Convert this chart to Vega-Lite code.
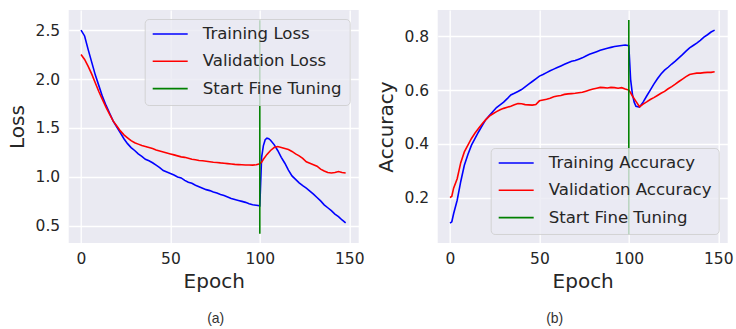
{
  "$schema": "https://vega.github.io/schema/vega-lite/v6.json",
  "padding": {"left": 6.7, "top": 10, "right": 0, "bottom": 0},
  "background": "white",
  "config": {
    "view": {"fill": "#EAEAF2", "stroke": null},
    "axis": {
      "domain": false, "ticks": false, "tickSize": 0,
      "grid": true, "gridColor": "#ffffff", "gridWidth": 1.3,
      "labelFont": "DejaVu Sans", "labelFontSize": 15.5, "labelColor": "#262626", "labelPadding": 9,
      "titleFont": "DejaVu Sans", "titleFontSize": 20, "titleFontWeight": "normal", "titleColor": "#262626"
    },
    "axisX": {"titlePadding": 4},
    "axisY": {"titlePadding": 7.5},
    "legend": {
      "symbolType": "stroke", "symbolSize": 1225, "symbolStrokeWidth": 1.6,
      "labelFont": "DejaVu Sans", "labelFontSize": 16.6, "labelColor": "#262626", "labelOffset": 14, "labelLimit": 400,
      "clipHeight": 16, "rowPadding": 10.3, "padding": 7, "offset": 9,
      "fillColor": "rgba(234,234,242,0.8)", "strokeColor": "rgba(204,204,204,0.8)", "cornerRadius": 4
    },
    "title": {"font": "Liberation Sans", "fontSize": 14, "fontWeight": "normal", "color": "#333333"}
  },
  "datasets": {
    "tl": [
      {"epoch":0,"value":2.50,"series":"Training Loss"},{"epoch":2,"value":2.44,"series":"Training Loss"},{"epoch":4,"value":2.30,"series":"Training Loss"},{"epoch":6,"value":2.17,"series":"Training Loss"},{"epoch":8,"value":2.04,"series":"Training Loss"},{"epoch":10,"value":1.93,"series":"Training Loss"},{"epoch":12,"value":1.82,"series":"Training Loss"},{"epoch":14,"value":1.73,"series":"Training Loss"},{"epoch":16,"value":1.65,"series":"Training Loss"},{"epoch":18,"value":1.57,"series":"Training Loss"},{"epoch":20,"value":1.51,"series":"Training Loss"},{"epoch":22,"value":1.45,"series":"Training Loss"},{"epoch":24,"value":1.39,"series":"Training Loss"},{"epoch":26,"value":1.34,"series":"Training Loss"},{"epoch":28,"value":1.30,"series":"Training Loss"},{"epoch":30,"value":1.27,"series":"Training Loss"},{"epoch":32,"value":1.235,"series":"Training Loss"},{"epoch":34,"value":1.21,"series":"Training Loss"},{"epoch":36,"value":1.18,"series":"Training Loss"},{"epoch":38,"value":1.165,"series":"Training Loss"},{"epoch":40,"value":1.145,"series":"Training Loss"},{"epoch":42,"value":1.12,"series":"Training Loss"},{"epoch":44,"value":1.095,"series":"Training Loss"},{"epoch":46,"value":1.065,"series":"Training Loss"},{"epoch":48,"value":1.05,"series":"Training Loss"},{"epoch":50,"value":1.035,"series":"Training Loss"},{"epoch":52,"value":1.02,"series":"Training Loss"},{"epoch":54,"value":1.0,"series":"Training Loss"},{"epoch":56,"value":0.99,"series":"Training Loss"},{"epoch":58,"value":0.965,"series":"Training Loss"},{"epoch":60,"value":0.945,"series":"Training Loss"},{"epoch":62,"value":0.935,"series":"Training Loss"},{"epoch":64,"value":0.915,"series":"Training Loss"},{"epoch":66,"value":0.90,"series":"Training Loss"},{"epoch":68,"value":0.885,"series":"Training Loss"},{"epoch":70,"value":0.87,"series":"Training Loss"},{"epoch":72,"value":0.86,"series":"Training Loss"},{"epoch":74,"value":0.845,"series":"Training Loss"},{"epoch":76,"value":0.835,"series":"Training Loss"},{"epoch":78,"value":0.82,"series":"Training Loss"},{"epoch":80,"value":0.81,"series":"Training Loss"},{"epoch":82,"value":0.795,"series":"Training Loss"},{"epoch":84,"value":0.78,"series":"Training Loss"},{"epoch":86,"value":0.77,"series":"Training Loss"},{"epoch":88,"value":0.76,"series":"Training Loss"},{"epoch":90,"value":0.75,"series":"Training Loss"},{"epoch":92,"value":0.74,"series":"Training Loss"},{"epoch":94,"value":0.725,"series":"Training Loss"},{"epoch":96,"value":0.715,"series":"Training Loss"},{"epoch":98,"value":0.71,"series":"Training Loss"},{"epoch":100,"value":0.705,"series":"Training Loss"},{"epoch":101,"value":1.20,"series":"Training Loss"},{"epoch":102,"value":1.32,"series":"Training Loss"},{"epoch":103,"value":1.38,"series":"Training Loss"},{"epoch":104,"value":1.395,"series":"Training Loss"},{"epoch":105,"value":1.39,"series":"Training Loss"},{"epoch":106,"value":1.375,"series":"Training Loss"},{"epoch":108,"value":1.33,"series":"Training Loss"},{"epoch":110,"value":1.27,"series":"Training Loss"},{"epoch":112,"value":1.20,"series":"Training Loss"},{"epoch":114,"value":1.14,"series":"Training Loss"},{"epoch":116,"value":1.07,"series":"Training Loss"},{"epoch":118,"value":1.01,"series":"Training Loss"},{"epoch":120,"value":0.975,"series":"Training Loss"},{"epoch":122,"value":0.94,"series":"Training Loss"},{"epoch":124,"value":0.91,"series":"Training Loss"},{"epoch":126,"value":0.885,"series":"Training Loss"},{"epoch":128,"value":0.855,"series":"Training Loss"},{"epoch":130,"value":0.825,"series":"Training Loss"},{"epoch":132,"value":0.79,"series":"Training Loss"},{"epoch":134,"value":0.755,"series":"Training Loss"},{"epoch":136,"value":0.715,"series":"Training Loss"},{"epoch":138,"value":0.685,"series":"Training Loss"},{"epoch":140,"value":0.655,"series":"Training Loss"},{"epoch":142,"value":0.62,"series":"Training Loss"},{"epoch":144,"value":0.595,"series":"Training Loss"},{"epoch":146,"value":0.56,"series":"Training Loss"},{"epoch":148,"value":0.53,"series":"Training Loss"}
    ],
    "vl": [
      {"epoch":0,"value":2.25,"series":"Validation Loss"},{"epoch":2,"value":2.20,"series":"Validation Loss"},{"epoch":4,"value":2.13,"series":"Validation Loss"},{"epoch":6,"value":2.05,"series":"Validation Loss"},{"epoch":8,"value":1.96,"series":"Validation Loss"},{"epoch":10,"value":1.87,"series":"Validation Loss"},{"epoch":12,"value":1.79,"series":"Validation Loss"},{"epoch":14,"value":1.71,"series":"Validation Loss"},{"epoch":16,"value":1.64,"series":"Validation Loss"},{"epoch":18,"value":1.57,"series":"Validation Loss"},{"epoch":20,"value":1.52,"series":"Validation Loss"},{"epoch":22,"value":1.47,"series":"Validation Loss"},{"epoch":24,"value":1.43,"series":"Validation Loss"},{"epoch":26,"value":1.40,"series":"Validation Loss"},{"epoch":28,"value":1.37,"series":"Validation Loss"},{"epoch":30,"value":1.35,"series":"Validation Loss"},{"epoch":32,"value":1.335,"series":"Validation Loss"},{"epoch":34,"value":1.32,"series":"Validation Loss"},{"epoch":36,"value":1.31,"series":"Validation Loss"},{"epoch":38,"value":1.30,"series":"Validation Loss"},{"epoch":40,"value":1.29,"series":"Validation Loss"},{"epoch":42,"value":1.275,"series":"Validation Loss"},{"epoch":44,"value":1.265,"series":"Validation Loss"},{"epoch":46,"value":1.255,"series":"Validation Loss"},{"epoch":48,"value":1.245,"series":"Validation Loss"},{"epoch":50,"value":1.235,"series":"Validation Loss"},{"epoch":52,"value":1.225,"series":"Validation Loss"},{"epoch":54,"value":1.215,"series":"Validation Loss"},{"epoch":56,"value":1.205,"series":"Validation Loss"},{"epoch":58,"value":1.20,"series":"Validation Loss"},{"epoch":60,"value":1.19,"series":"Validation Loss"},{"epoch":62,"value":1.18,"series":"Validation Loss"},{"epoch":64,"value":1.175,"series":"Validation Loss"},{"epoch":66,"value":1.168,"series":"Validation Loss"},{"epoch":68,"value":1.165,"series":"Validation Loss"},{"epoch":70,"value":1.16,"series":"Validation Loss"},{"epoch":72,"value":1.155,"series":"Validation Loss"},{"epoch":74,"value":1.15,"series":"Validation Loss"},{"epoch":76,"value":1.147,"series":"Validation Loss"},{"epoch":78,"value":1.143,"series":"Validation Loss"},{"epoch":80,"value":1.14,"series":"Validation Loss"},{"epoch":82,"value":1.136,"series":"Validation Loss"},{"epoch":84,"value":1.132,"series":"Validation Loss"},{"epoch":86,"value":1.128,"series":"Validation Loss"},{"epoch":88,"value":1.126,"series":"Validation Loss"},{"epoch":90,"value":1.124,"series":"Validation Loss"},{"epoch":92,"value":1.122,"series":"Validation Loss"},{"epoch":94,"value":1.122,"series":"Validation Loss"},{"epoch":96,"value":1.12,"series":"Validation Loss"},{"epoch":98,"value":1.124,"series":"Validation Loss"},{"epoch":100,"value":1.135,"series":"Validation Loss"},{"epoch":101,"value":1.15,"series":"Validation Loss"},{"epoch":102,"value":1.18,"series":"Validation Loss"},{"epoch":104,"value":1.23,"series":"Validation Loss"},{"epoch":106,"value":1.27,"series":"Validation Loss"},{"epoch":108,"value":1.30,"series":"Validation Loss"},{"epoch":110,"value":1.31,"series":"Validation Loss"},{"epoch":112,"value":1.30,"series":"Validation Loss"},{"epoch":114,"value":1.29,"series":"Validation Loss"},{"epoch":116,"value":1.28,"series":"Validation Loss"},{"epoch":118,"value":1.26,"series":"Validation Loss"},{"epoch":120,"value":1.235,"series":"Validation Loss"},{"epoch":122,"value":1.215,"series":"Validation Loss"},{"epoch":124,"value":1.19,"series":"Validation Loss"},{"epoch":126,"value":1.155,"series":"Validation Loss"},{"epoch":128,"value":1.14,"series":"Validation Loss"},{"epoch":130,"value":1.125,"series":"Validation Loss"},{"epoch":132,"value":1.11,"series":"Validation Loss"},{"epoch":134,"value":1.08,"series":"Validation Loss"},{"epoch":136,"value":1.06,"series":"Validation Loss"},{"epoch":138,"value":1.045,"series":"Validation Loss"},{"epoch":140,"value":1.04,"series":"Validation Loss"},{"epoch":142,"value":1.045,"series":"Validation Loss"},{"epoch":144,"value":1.055,"series":"Validation Loss"},{"epoch":146,"value":1.045,"series":"Validation Loss"},{"epoch":148,"value":1.04,"series":"Validation Loss"}
    ],
    "fa": [
      {"epoch":100,"value":0.42,"series":"Start Fine Tuning"},{"epoch":100,"value":2.6,"series":"Start Fine Tuning"}
    ],
    "ta": [
      {"epoch":0,"value":0.105,"series":"Training Accuracy"},{"epoch":1,"value":0.11,"series":"Training Accuracy"},{"epoch":2,"value":0.14,"series":"Training Accuracy"},{"epoch":4,"value":0.19,"series":"Training Accuracy"},{"epoch":6,"value":0.26,"series":"Training Accuracy"},{"epoch":8,"value":0.32,"series":"Training Accuracy"},{"epoch":10,"value":0.36,"series":"Training Accuracy"},{"epoch":12,"value":0.395,"series":"Training Accuracy"},{"epoch":14,"value":0.42,"series":"Training Accuracy"},{"epoch":16,"value":0.445,"series":"Training Accuracy"},{"epoch":18,"value":0.468,"series":"Training Accuracy"},{"epoch":20,"value":0.49,"series":"Training Accuracy"},{"epoch":22,"value":0.505,"series":"Training Accuracy"},{"epoch":24,"value":0.52,"series":"Training Accuracy"},{"epoch":26,"value":0.535,"series":"Training Accuracy"},{"epoch":28,"value":0.545,"series":"Training Accuracy"},{"epoch":30,"value":0.555,"series":"Training Accuracy"},{"epoch":32,"value":0.568,"series":"Training Accuracy"},{"epoch":34,"value":0.582,"series":"Training Accuracy"},{"epoch":36,"value":0.588,"series":"Training Accuracy"},{"epoch":38,"value":0.595,"series":"Training Accuracy"},{"epoch":40,"value":0.602,"series":"Training Accuracy"},{"epoch":42,"value":0.612,"series":"Training Accuracy"},{"epoch":44,"value":0.622,"series":"Training Accuracy"},{"epoch":46,"value":0.632,"series":"Training Accuracy"},{"epoch":48,"value":0.642,"series":"Training Accuracy"},{"epoch":50,"value":0.652,"series":"Training Accuracy"},{"epoch":52,"value":0.658,"series":"Training Accuracy"},{"epoch":54,"value":0.665,"series":"Training Accuracy"},{"epoch":56,"value":0.672,"series":"Training Accuracy"},{"epoch":58,"value":0.678,"series":"Training Accuracy"},{"epoch":60,"value":0.684,"series":"Training Accuracy"},{"epoch":62,"value":0.69,"series":"Training Accuracy"},{"epoch":64,"value":0.696,"series":"Training Accuracy"},{"epoch":66,"value":0.702,"series":"Training Accuracy"},{"epoch":68,"value":0.707,"series":"Training Accuracy"},{"epoch":70,"value":0.71,"series":"Training Accuracy"},{"epoch":72,"value":0.715,"series":"Training Accuracy"},{"epoch":74,"value":0.72,"series":"Training Accuracy"},{"epoch":76,"value":0.727,"series":"Training Accuracy"},{"epoch":78,"value":0.733,"series":"Training Accuracy"},{"epoch":80,"value":0.738,"series":"Training Accuracy"},{"epoch":82,"value":0.743,"series":"Training Accuracy"},{"epoch":84,"value":0.748,"series":"Training Accuracy"},{"epoch":86,"value":0.752,"series":"Training Accuracy"},{"epoch":88,"value":0.756,"series":"Training Accuracy"},{"epoch":90,"value":0.759,"series":"Training Accuracy"},{"epoch":92,"value":0.762,"series":"Training Accuracy"},{"epoch":94,"value":0.764,"series":"Training Accuracy"},{"epoch":96,"value":0.766,"series":"Training Accuracy"},{"epoch":98,"value":0.768,"series":"Training Accuracy"},{"epoch":100,"value":0.765,"series":"Training Accuracy"},{"epoch":101,"value":0.64,"series":"Training Accuracy"},{"epoch":102,"value":0.585,"series":"Training Accuracy"},{"epoch":103,"value":0.555,"series":"Training Accuracy"},{"epoch":104,"value":0.54,"series":"Training Accuracy"},{"epoch":106,"value":0.537,"series":"Training Accuracy"},{"epoch":108,"value":0.555,"series":"Training Accuracy"},{"epoch":110,"value":0.578,"series":"Training Accuracy"},{"epoch":112,"value":0.6,"series":"Training Accuracy"},{"epoch":114,"value":0.622,"series":"Training Accuracy"},{"epoch":116,"value":0.642,"series":"Training Accuracy"},{"epoch":118,"value":0.66,"series":"Training Accuracy"},{"epoch":120,"value":0.674,"series":"Training Accuracy"},{"epoch":122,"value":0.685,"series":"Training Accuracy"},{"epoch":124,"value":0.697,"series":"Training Accuracy"},{"epoch":126,"value":0.708,"series":"Training Accuracy"},{"epoch":128,"value":0.72,"series":"Training Accuracy"},{"epoch":130,"value":0.732,"series":"Training Accuracy"},{"epoch":132,"value":0.745,"series":"Training Accuracy"},{"epoch":134,"value":0.757,"series":"Training Accuracy"},{"epoch":136,"value":0.766,"series":"Training Accuracy"},{"epoch":138,"value":0.775,"series":"Training Accuracy"},{"epoch":140,"value":0.785,"series":"Training Accuracy"},{"epoch":142,"value":0.797,"series":"Training Accuracy"},{"epoch":144,"value":0.806,"series":"Training Accuracy"},{"epoch":146,"value":0.816,"series":"Training Accuracy"},{"epoch":148,"value":0.823,"series":"Training Accuracy"}
    ],
    "va": [
      {"epoch":0,"value":0.20,"series":"Validation Accuracy"},{"epoch":1,"value":0.205,"series":"Validation Accuracy"},{"epoch":2,"value":0.235,"series":"Validation Accuracy"},{"epoch":4,"value":0.27,"series":"Validation Accuracy"},{"epoch":6,"value":0.33,"series":"Validation Accuracy"},{"epoch":8,"value":0.37,"series":"Validation Accuracy"},{"epoch":10,"value":0.395,"series":"Validation Accuracy"},{"epoch":12,"value":0.42,"series":"Validation Accuracy"},{"epoch":14,"value":0.44,"series":"Validation Accuracy"},{"epoch":16,"value":0.458,"series":"Validation Accuracy"},{"epoch":18,"value":0.475,"series":"Validation Accuracy"},{"epoch":20,"value":0.49,"series":"Validation Accuracy"},{"epoch":22,"value":0.503,"series":"Validation Accuracy"},{"epoch":24,"value":0.512,"series":"Validation Accuracy"},{"epoch":26,"value":0.52,"series":"Validation Accuracy"},{"epoch":28,"value":0.527,"series":"Validation Accuracy"},{"epoch":30,"value":0.532,"series":"Validation Accuracy"},{"epoch":32,"value":0.536,"series":"Validation Accuracy"},{"epoch":34,"value":0.54,"series":"Validation Accuracy"},{"epoch":36,"value":0.545,"series":"Validation Accuracy"},{"epoch":38,"value":0.55,"series":"Validation Accuracy"},{"epoch":40,"value":0.549,"series":"Validation Accuracy"},{"epoch":42,"value":0.546,"series":"Validation Accuracy"},{"epoch":44,"value":0.545,"series":"Validation Accuracy"},{"epoch":46,"value":0.544,"series":"Validation Accuracy"},{"epoch":48,"value":0.546,"series":"Validation Accuracy"},{"epoch":50,"value":0.56,"series":"Validation Accuracy"},{"epoch":52,"value":0.563,"series":"Validation Accuracy"},{"epoch":54,"value":0.566,"series":"Validation Accuracy"},{"epoch":56,"value":0.57,"series":"Validation Accuracy"},{"epoch":58,"value":0.575,"series":"Validation Accuracy"},{"epoch":60,"value":0.578,"series":"Validation Accuracy"},{"epoch":62,"value":0.58,"series":"Validation Accuracy"},{"epoch":64,"value":0.584,"series":"Validation Accuracy"},{"epoch":66,"value":0.586,"series":"Validation Accuracy"},{"epoch":68,"value":0.587,"series":"Validation Accuracy"},{"epoch":70,"value":0.588,"series":"Validation Accuracy"},{"epoch":72,"value":0.59,"series":"Validation Accuracy"},{"epoch":74,"value":0.592,"series":"Validation Accuracy"},{"epoch":76,"value":0.596,"series":"Validation Accuracy"},{"epoch":78,"value":0.6,"series":"Validation Accuracy"},{"epoch":80,"value":0.604,"series":"Validation Accuracy"},{"epoch":82,"value":0.607,"series":"Validation Accuracy"},{"epoch":84,"value":0.61,"series":"Validation Accuracy"},{"epoch":86,"value":0.609,"series":"Validation Accuracy"},{"epoch":88,"value":0.608,"series":"Validation Accuracy"},{"epoch":90,"value":0.61,"series":"Validation Accuracy"},{"epoch":92,"value":0.609,"series":"Validation Accuracy"},{"epoch":94,"value":0.607,"series":"Validation Accuracy"},{"epoch":96,"value":0.609,"series":"Validation Accuracy"},{"epoch":98,"value":0.604,"series":"Validation Accuracy"},{"epoch":100,"value":0.6,"series":"Validation Accuracy"},{"epoch":101,"value":0.59,"series":"Validation Accuracy"},{"epoch":102,"value":0.578,"series":"Validation Accuracy"},{"epoch":104,"value":0.558,"series":"Validation Accuracy"},{"epoch":106,"value":0.538,"series":"Validation Accuracy"},{"epoch":108,"value":0.548,"series":"Validation Accuracy"},{"epoch":110,"value":0.556,"series":"Validation Accuracy"},{"epoch":112,"value":0.565,"series":"Validation Accuracy"},{"epoch":114,"value":0.572,"series":"Validation Accuracy"},{"epoch":116,"value":0.58,"series":"Validation Accuracy"},{"epoch":118,"value":0.588,"series":"Validation Accuracy"},{"epoch":120,"value":0.595,"series":"Validation Accuracy"},{"epoch":122,"value":0.605,"series":"Validation Accuracy"},{"epoch":124,"value":0.613,"series":"Validation Accuracy"},{"epoch":126,"value":0.622,"series":"Validation Accuracy"},{"epoch":128,"value":0.632,"series":"Validation Accuracy"},{"epoch":130,"value":0.641,"series":"Validation Accuracy"},{"epoch":132,"value":0.65,"series":"Validation Accuracy"},{"epoch":134,"value":0.658,"series":"Validation Accuracy"},{"epoch":136,"value":0.661,"series":"Validation Accuracy"},{"epoch":138,"value":0.663,"series":"Validation Accuracy"},{"epoch":140,"value":0.663,"series":"Validation Accuracy"},{"epoch":142,"value":0.665,"series":"Validation Accuracy"},{"epoch":144,"value":0.666,"series":"Validation Accuracy"},{"epoch":146,"value":0.666,"series":"Validation Accuracy"},{"epoch":148,"value":0.668,"series":"Validation Accuracy"}
    ],
    "fb": [
      {"epoch":100,"value":0.064,"series":"Start Fine Tuning"},{"epoch":100,"value":0.861,"series":"Start Fine Tuning"}
    ]
  },
  "hconcat": [
    {
      "width": 290, "height": 233,
      "title": {"text": "(a)", "orient": "bottom", "anchor": "middle", "offset": 21, "dx": 2},
      "encoding": {
        "x": {"field": "epoch", "type": "quantitative", "scale": {"domain": [-6.9, 155.3], "nice": false, "zero": false}, "axis": {"values": [0, 50, 100, 150], "title": "Epoch"}},
        "y": {"field": "value", "type": "quantitative", "scale": {"domain": [0.325, 2.705], "nice": false, "zero": false}, "axis": {"values": [0.5, 1.0, 1.5, 2.0, 2.5], "format": ".1f", "title": "Loss"}},
        "color": {"field": "series", "type": "nominal", "scale": {"domain": ["Training Loss", "Validation Loss", "Start Fine Tuning"], "range": ["#0000ff", "#ff0000", "#008000"]}, "legend": {"orient": "top-right", "title": null}}
      },
      "layer": [
        {"data": {"name": "tl"}, "mark": {"type": "line", "strokeWidth": 1.6}},
        {"data": {"name": "vl"}, "mark": {"type": "line", "strokeWidth": 1.6}},
        {"data": {"name": "fa"}, "mark": {"type": "line", "strokeWidth": 1.6}}
      ]
    },
    {
      "width": 290, "height": 233,
      "title": {"text": "(b)", "orient": "bottom", "anchor": "middle", "offset": 21, "dx": -28},
      "encoding": {
        "x": {"field": "epoch", "type": "quantitative", "scale": {"domain": [-6.9, 155.3], "nice": false, "zero": false}, "axis": {"values": [0, 50, 100, 150], "title": "Epoch"}},
        "y": {"field": "value", "type": "quantitative", "scale": {"domain": [0.031, 0.898], "nice": false, "zero": false}, "axis": {"values": [0.2, 0.4, 0.6, 0.8], "format": ".1f", "title": "Accuracy"}},
        "color": {"field": "series", "type": "nominal", "scale": {"domain": ["Training Accuracy", "Validation Accuracy", "Start Fine Tuning"], "range": ["#0000ff", "#ff0000", "#008000"]}, "legend": {"orient": "bottom-right", "title": null}}
      },
      "layer": [
        {"data": {"name": "ta"}, "mark": {"type": "line", "strokeWidth": 1.6}},
        {"data": {"name": "va"}, "mark": {"type": "line", "strokeWidth": 1.6}},
        {"data": {"name": "fb"}, "mark": {"type": "line", "strokeWidth": 1.6}}
      ]
    }
  ],
  "spacing": 11,
  "resolve": {"scale": {"color": "independent", "y": "independent", "x": "independent"}, "legend": {"color": "independent"}}
}
